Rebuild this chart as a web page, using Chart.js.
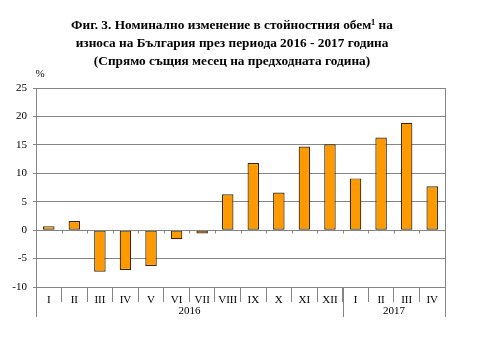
<!DOCTYPE html>
<html>
<head>
<meta charset="utf-8">
<script src="https://cdn.jsdelivr.net/npm/chart.js@4"></script>
<style>
  body { margin: 0; background: #fff; }
</style>
</head>
<body>
<canvas id="chart3" width="500" height="364"></canvas>
<script>
const titleLines = [
    "Фиг. 3. Номинално изменение в стойностния обем¹ на",
    "износа на България през периода 2016 - 2017 година",
    "(Спрямо същия месец на предходната година)"
];
const months = ["I", "II", "III", "IV", "V", "VI", "VII", "VIII", "IX", "X", "XI", "XII", "I", "II", "III", "IV"];
const years = ["2016", "2017"];
const yearSpans = [12, 4];
const exportChange = [0.7, 1.6, -7.3, -7.0, -6.3, -1.6, -0.6, 6.3, 11.8, 6.6, 14.7, 15.1, 9.1, 16.3, 18.9, 7.7];
const yMin = -10, yMax = 25, yStep = 5;

const serif = "'Liberation Serif', 'DejaVu Serif', serif";
const lineColor = "#858585";

// title, zero-line ticks and the year row under the months
const extras = {
    id: "extras",
    afterDraw(chart) {
        const c = chart.ctx;
        const x = chart.scales.x;
        const y = chart.scales.y;
        const area = chart.chartArea;
        const w = (x.right - x.left) / months.length;

        c.save();
        c.fillStyle = "#000";
        c.textAlign = "center";
        c.textBaseline = "middle";
        c.font = "bold 13.3px " + serif;
        titleLines.forEach((t, i) => c.fillText(t, 232, 26 + i * 18));

        c.font = "11px " + serif;
        c.fillText("%", 40, 74);

        c.strokeStyle = lineColor;
        c.lineWidth = 1;
        const y0 = Math.round(y.getPixelForValue(0)) + 0.5;
        c.beginPath();
        c.moveTo(area.left, y0);
        c.lineTo(area.right, y0);
        for (let i = 0; i <= months.length; i++) {
            const px = Math.round(x.left + i * w) + 0.5;
            c.moveTo(px, y0);
            c.lineTo(px, y0 + 3);
        }
        c.stroke();

        let start = 0;
        c.beginPath();
        c.moveTo(Math.round(area.left) + 0.5, area.top);
        c.lineTo(Math.round(area.left) + 0.5, 317);
        c.moveTo(Math.round(area.right) + 0.5, area.top);
        c.lineTo(Math.round(area.right) + 0.5, 317);
        years.forEach((yr, i) => {
            const end = start + yearSpans[i];
            const px = Math.round(x.left + end * w) + 0.5;
            c.moveTo(px, area.bottom);
            c.lineTo(px, 317);
            c.fillText(yr, x.left + (start + end) / 2 * w, 311);
            start = end;
        });
        c.stroke();
        c.restore();
    }
};

new Chart(document.getElementById("chart3").getContext("2d"), {
    type: "bar",
    data: {
        labels: months,
        datasets: [{
            data: exportChange,
            backgroundColor: "#ff9900",
            borderColor: "#3b2700",
            borderWidth: 1.2,
            borderSkipped: false,
            barPercentage: 0.45,
            categoryPercentage: 1
        }]
    },
    options: {
        responsive: false,
        animation: false,
        layout: { padding: { top: 88, right: 55, bottom: 0, left: 0 } },
        plugins: {
            legend: { display: false },
            tooltip: { enabled: false }
        },
        scales: {
            x: {
                offset: true,
                grid: {
                    offset: true,
                    drawOnChartArea: false,
                    tickLength: 15,
                    color: lineColor
                },
                border: { color: lineColor },
                ticks: {
                    color: "#000",
                    padding: -8,
                    maxRotation: 0,
                    autoSkip: false,
                    font: { family: serif, size: 11 }
                },
                afterFit(scale) { scale.height = 77; }
            },
            y: {
                min: yMin,
                max: yMax,
                ticks: {
                    stepSize: yStep,
                    color: "#000",
                    padding: 6,
                    font: { family: serif, size: 11 }
                },
                grid: {
                    color: lineColor,
                    drawTicks: true,
                    tickLength: 3
                },
                border: { color: lineColor },
                afterFit(scale) { scale.width = 36; }
            }
        }
    },
    plugins: [extras]
});
</script>
</body>
</html>
